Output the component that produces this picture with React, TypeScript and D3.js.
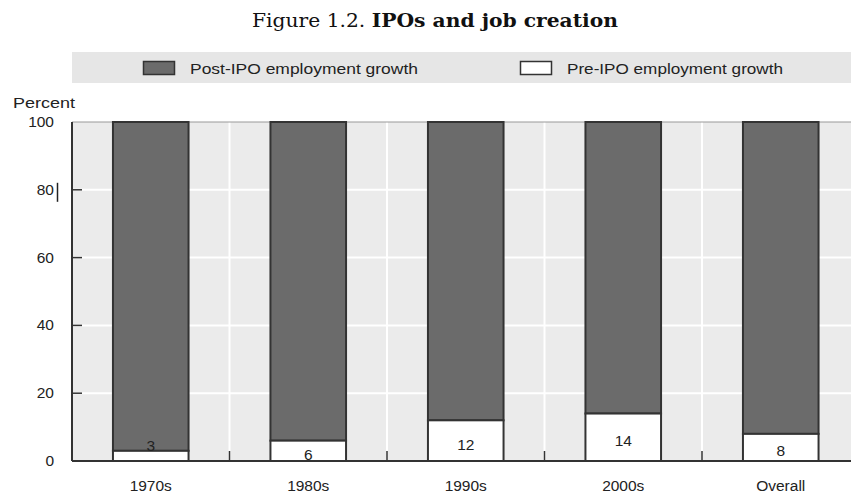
import React from "react";
import * as d3 from "d3";

const categories = ["1970s", "1980s", "1990s", "2000s", "Overall"];
const preIPO = [3, 6, 12, 14, 8];
const postIPO = [97, 94, 88, 86, 92];
const yTicks = [0, 20, 40, 60, 80, 100];
const seriesNames = ["Post-IPO employment growth", "Pre-IPO employment growth"];

const W = 851;
const H = 494;
const left = 72;
const step = 157.5;
const y0 = 461;
const y100 = 122;

export default function App() {
  const x = d3
    .scaleBand<string>()
    .domain(categories)
    .range([left, left + step * categories.length])
    .paddingInner(0.52)
    .paddingOuter(0.26);
  const y = d3.scaleLinear().domain([0, 100]).range([y0, y100]);
  const font = "'Liberation Sans', Arial, sans-serif";
  const plotRight = left + step * categories.length;
  const bw = x.bandwidth();
  const boundaries = categories.slice(1).map((_, i) => left + step * (i + 1));
  const fs = 15.5;

  return (
    <svg width={W} height={H} style={{ position: "absolute", left: 0, top: 0, background: "#fff" }}>
      <text x={252} y={27} fontFamily="'DejaVu Serif', serif" fontSize={19} fill="#111" textLength={366} lengthAdjust="spacingAndGlyphs">
        Figure 1.2.{"  "}
        <tspan fontWeight="bold">IPOs and job creation</tspan>
      </text>
      {/* legend */}
      <rect x={72} y={52} width={W - 72} height={31} fill="#e6e6e6" />
      <rect x={143.5} y={61.5} width={31} height={13} fill="#6b6b6b" stroke="#333" strokeWidth={1.5} />
      <text x={190} y={74} fontFamily={font} fontSize={fs} fill="#222" textLength={228} lengthAdjust="spacingAndGlyphs">
        {seriesNames[0]}
      </text>
      <rect x={520.5} y={61.5} width={31} height={13} fill="#fff" stroke="#333" strokeWidth={1.5} />
      <text x={567} y={74} fontFamily={font} fontSize={fs} fill="#222" textLength={216} lengthAdjust="spacingAndGlyphs">
        {seriesNames[1]}
      </text>

      {/* plot background */}
      <rect x={left} y={y100} width={plotRight - left} height={y0 - y100} fill="#ebebeb" />
      {yTicks.slice(1, -1).map((t) => (
        <line key={"g" + t} x1={left} x2={plotRight} y1={y(t)} y2={y(t)} stroke="#fff" strokeWidth={2} />
      ))}
      {categories.map((c) => (
        <line key={"v" + c} x1={x(c)! + bw / 2} x2={x(c)! + bw / 2} y1={y100} y2={y0} stroke="#fff" strokeWidth={2} />
      ))}
      {boundaries.map((b, i) => (
        <line key={"b" + i} x1={b} x2={b} y1={y100} y2={y0} stroke="#fff" strokeWidth={2} />
      ))}
      <line x1={left} x2={plotRight} y1={y100} y2={y100} stroke="#999" strokeWidth={1} />

      {/* bars */}
      {categories.map((c, i) => {
        const segH = y(0) - y(preIPO[i]);
        return (
          <g key={c}>
            <rect x={x(c)!} y={y(100)} width={bw} height={y(preIPO[i]) - y(100)} fill="#6b6b6b" stroke="#333" strokeWidth={2} />
            <rect x={x(c)!} y={y(preIPO[i])} width={bw} height={segH} fill="#fff" stroke="#333" strokeWidth={2} />
            <text
              x={x(c)! + bw / 2}
              y={segH < 15 ? y(preIPO[i]) : (y(preIPO[i]) + y(0)) / 2 + 9}
              textAnchor="middle"
              fontFamily={font}
              fontSize={fs}
              fill="#222"
            >
              {preIPO[i]}
            </text>
          </g>
        );
      })}

      {/* axes */}
      <line x1={left} x2={left} y1={y100} y2={y0} stroke="#333" strokeWidth={2} />
      <line x1={left} x2={plotRight} y1={y0} y2={y0} stroke="#333" strokeWidth={2} />
      {yTicks.map((t) => (
        <g key={"t" + t}>
          {t > 0 && t < 100 && <line x1={left} x2={left + 10} y1={y(t)} y2={y(t)} stroke="#333" strokeWidth={1.5} />}
          <text x={54} y={y(t) + 5} textAnchor="end" fontFamily={font} fontSize={fs} fill="#222">
            {t}
          </text>
        </g>
      ))}
      <line x1={57.5} x2={57.5} y1={y(80) - 7} y2={y(80) + 12} stroke="#222" strokeWidth={1.5} />
      {boundaries.map((b, i) => (
        <line key={"bt" + i} x1={b} x2={b} y1={y0} y2={y0 - 10} stroke="#333" strokeWidth={1.5} />
      ))}
      <text x={13} y={108} fontFamily={font} fontSize={fs} fill="#222" textLength={62} lengthAdjust="spacingAndGlyphs">
        Percent
      </text>
      {categories.map((c) => (
        <text key={"xl" + c} x={x(c)! + bw / 2} y={491} textAnchor="middle" fontFamily={font} fontSize={fs} fill="#222">
          {c}
        </text>
      ))}
    </svg>
  );
}
